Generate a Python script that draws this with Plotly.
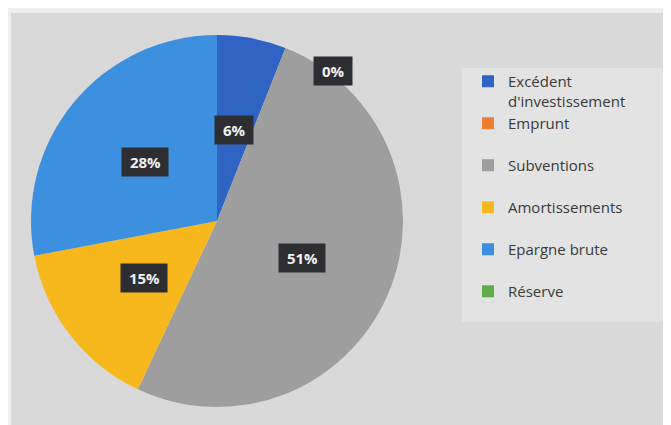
import math
import plotly.graph_objects as go

categories = ["Excédent<br>d'investissement", "Emprunt", "Subventions",
              "Amortissements", "Epargne brute", "Réserve"]
values = [6, 0, 51, 15, 28, 0]
colors = ["#2F63C4", "#ED7D31", "#9E9E9E", "#F7B81E", "#3D8FDF", "#5FAE4A"]

# page body has an 8px margin; work in window pixel coordinates
OFF = 8
W, H = 671 - OFF, 425 - OFF
CX, CY, R = 217, 221, 186


def px(xw):
    return (xw - OFF) / W


def py(yw):
    return 1 - (yw - OFF) / H


# pad single-line legend entries to two lines so entries are evenly spaced
legend_labels = [c if "<br>" in c else c + "<br>&nbsp;" for c in categories]

fig = go.Figure()
fig.add_trace(go.Pie(
    labels=legend_labels, values=values, sort=False, direction="clockwise",
    rotation=0, textinfo="none", hoverinfo="label+percent",
    marker=dict(colors=colors, line=dict(width=0)),
    domain=dict(x=[px(CX - R), px(CX + R)], y=[py(CY + R), py(CY - R)]),
))

# data labels in dark boxes, placed at the middle angle of each slice
total = sum(values)
cum = 0
annotations = []
for i, v in enumerate(values):
    if categories[i] == "Réserve":
        cum += v
        continue
    mid = (cum + v / 2) / total * 2 * math.pi
    rf = 0.5
    if v == 0:
        mid += math.radians(16)
        rf = 1.02
    cum += v
    xw = CX + rf * R * math.sin(mid)
    yw = CY - rf * R * math.cos(mid)
    annotations.append(dict(
        x=px(xw), y=py(yw), xref="paper", yref="paper", showarrow=False,
        xanchor="center", yanchor="middle",
        text=f"<b> {round(v / total * 100)}% </b>",
        font=dict(family="Open Sans", size=15, color="#F2F2F2"),
        bgcolor="#2C2E32", borderpad=4,
    ))

shapes = [
    dict(type="rect", xref="paper", yref="paper", x0=px(11), x1=1, y0=0, y1=py(13),
         fillcolor="#D9D9D9", line=dict(width=0), layer="below"),
    dict(type="rect", xref="paper", yref="paper", x0=px(462), x1=px(663),
         y0=py(322), y1=py(68), fillcolor="#E3E3E3", line=dict(width=0), layer="below"),
]

fig.update_layout(
    width=W, height=H, margin=dict(l=0, r=0, t=0, b=0),
    paper_bgcolor="#EFEFEF", plot_bgcolor="rgba(0,0,0,0)",
    shapes=shapes, annotations=annotations,
    legend=dict(x=px(468), y=py(65), xanchor="left", yanchor="top",
                valign="top", bgcolor="rgba(0,0,0,0)",
                font=dict(family="Open Sans", size=15, color="#3A3A3A")),
    showlegend=True,
)
fig.write_html("out.html")
